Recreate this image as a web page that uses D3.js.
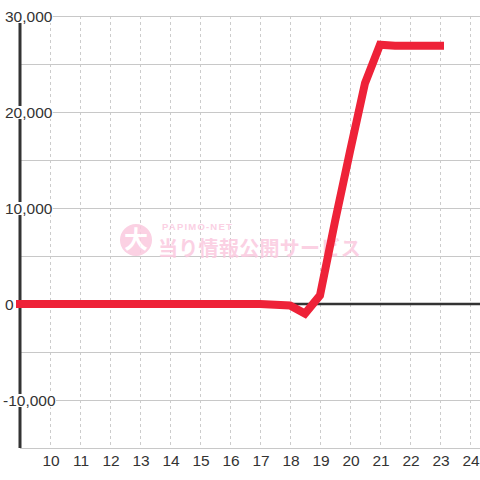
<!DOCTYPE html>
<html>
<head>
<meta charset="utf-8">
<script src="https://cdn.jsdelivr.net/npm/d3@7"></script>
<style>
  html, body { margin: 0; padding: 0; background: #fff; }
  svg { display: block; font-family: "Liberation Sans", Arial, sans-serif; }
</style>
</head>
<body>
<svg id="chart" width="480" height="480"></svg>
<script>
// hours of the day (decimal) and the balance at that time
const hours  = [9, 10, 11, 12, 13, 14, 15, 16, 17, 18, 18.5, 19, 19.5, 20, 20.5, 21, 21.5, 22, 22.5, 23];
const values = [0, 0, 0, 0, 0, 0, 0, 0, 0, -150, -1000, 900, 8600, 15900, 23000, 27000, 26900, 26900, 26900, 26900];

const xTicks = [10, 11, 12, 13, 14, 15, 16, 17, 18, 19, 20, 21, 22, 23, 24];
const yTicks = [30000, 20000, 10000, 0, -10000];
const yGrid  = [30000, 25000, 20000, 15000, 10000, 5000, -5000, -10000, -15000];

const svg = d3.select('#chart');
const plotLeft = 20, plotRight = 480, plotTop = 16, plotBottom = 448;

const x = d3.scaleLinear().domain([9, 24 + 1 / 3]).range([plotLeft, plotRight]);
const y = d3.scaleLinear().domain([-15000, 30000]).range([plotBottom, plotTop]);

// vertical dashed grid
svg.append('g')
    .selectAll('line')
    .data(xTicks)
    .enter()
    .append('line')
    .attr('x1', d => x(d) + 0.5)
    .attr('x2', d => x(d) + 0.5)
    .attr('y1', plotTop)
    .attr('y2', plotBottom)
    .attr('stroke', '#cccccc')
    .attr('stroke-width', 1)
    .attr('stroke-dasharray', '3,3');

// horizontal grid
svg.append('g')
    .selectAll('line')
    .data(yGrid)
    .enter()
    .append('line')
    .attr('x1', plotLeft)
    .attr('x2', plotRight)
    .attr('y1', d => Math.round(y(d)) + 0.5)
    .attr('y2', d => Math.round(y(d)) + 0.5)
    .attr('stroke', '#c8c8c8')
    .attr('stroke-width', 1);

// watermark
const wm = svg.append('g').attr('opacity', 0.85);
wm.append('circle')
    .attr('cx', 136).attr('cy', 240).attr('r', 16)
    .attr('fill', '#fbc9df');
wm.append('text')
    .attr('x', 136).attr('y', 248)
    .attr('text-anchor', 'middle')
    .attr('font-family', '"Noto Sans CJK JP", sans-serif')
    .attr('font-weight', 'bold')
    .attr('font-size', '24px')
    .attr('fill', '#fff')
    .text('大');
wm.append('text')
    .attr('x', 162).attr('y', 230)
    .attr('font-family', '"Liberation Sans Narrow", "Liberation Sans", sans-serif')
    .attr('font-weight', 'bold')
    .attr('font-size', '9.5px')
    .attr('letter-spacing', '1.2px')
    .attr('fill', '#fbc9df')
    .text('PAPIMO-NET');
wm.append('text')
    .attr('x', 158).attr('y', 256)
    .attr('font-family', '"Noto Sans CJK JP", sans-serif')
    .attr('font-weight', 'bold')
    .attr('font-size', '20px')
    .attr('letter-spacing', '0.3px')
    .attr('fill', '#fbc9df')
    .text('当り情報公開サービス');

// zero line
svg.append('line')
    .attr('x1', plotLeft).attr('x2', plotRight)
    .attr('y1', y(0)).attr('y2', y(0))
    .attr('stroke', '#333')
    .attr('stroke-width', 2.5);

// y axis line
svg.append('line')
    .attr('x1', plotLeft).attr('x2', plotLeft)
    .attr('y1', plotTop).attr('y2', plotBottom)
    .attr('stroke', '#333')
    .attr('stroke-width', 3);

// data line
const line = d3.line()
    .x((d, i) => x(hours[i]))
    .y(d => y(d));

svg.append('path')
    .datum(values)
    .attr('d', line)
    .attr('fill', 'none')
    .attr('stroke', '#ee2238')
    .attr('stroke-width', 8)
    .attr('stroke-linecap', 'square')
    .attr('stroke-linejoin', 'miter');

// y tick labels with white backing
const yl = svg.append('g')
    .selectAll('g')
    .data(yTicks)
    .enter()
    .append('g');

yl.append('rect')
    .attr('fill', '#fff');

yl.append('text')
    .attr('x', d => d < 0 ? 3 : 5)
    .attr('y', d => y(d) + 5.5)
    .attr('font-size', '15.5px')
    .attr('fill', '#333')
    .text(d => d3.format(',')(d).replace('\u2212', '-'));

yl.each(function(d) {
    const t = d3.select(this).select('text').node().getBBox();
    d3.select(this).select('rect')
        .attr('x', t.x)
        .attr('width', t.width)
        .attr('y', y(d) - 6)
        .attr('height', 13);
});

// x tick labels
svg.append('g')
    .selectAll('text')
    .data(xTicks)
    .enter()
    .append('text')
    .attr('x', d => x(d) + 1)
    .attr('y', plotBottom + 18)
    .attr('text-anchor', 'middle')
    .attr('font-size', '15.5px')
    .attr('fill', '#333')
    .text(d => d);
</script>
</body>
</html>
